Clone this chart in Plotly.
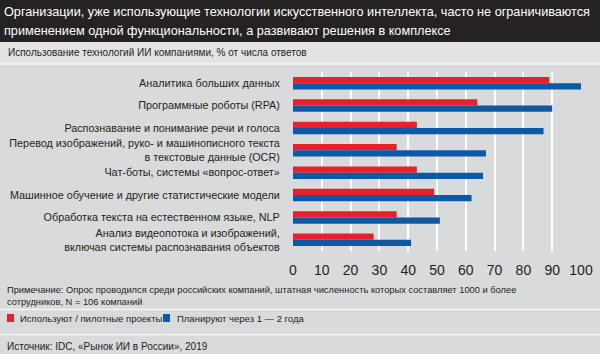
import plotly.graph_objects as go

categories = [
    "Аналитика больших данных",
    "Программные роботы (RPA)",
    "Распознавание и понимание речи и голоса",
    "Перевод изображений, руко- и машинописного текста<br>в текстовые данные (OCR)",
    "Чат-боты, системы «вопрос-ответ»",
    "Машинное обучение и другие статистические модели",
    "Обработка текста на естественном языке, NLP",
    "Анализ видеопотока и изображений,<br>включая системы распознавания объектов",
]
use_now = [89, 64, 43, 36, 43, 49, 36, 28]
plan_1_2 = [100, 90, 87, 67, 66, 62, 51, 41]
x_ticks = [0, 10, 20, 30, 40, 50, 60, 70, 80, 90, 100]

title_lines = [
    "Организации, уже использующие технологии искусственного интеллекта, часто не ограничиваются",
    "применением одной функциональности, а развивают решения в комплексе",
]
subtitle = "Использование технологий ИИ компаниями, % от числа ответов"
note = ("Примечание: Опрос проводился среди российских компаний, штатная численность которых составляет 1000 и более<br>"
        "сотрудников, N = 106 компаний")
legend_names = ["Используют / пилотные проекты", "Планируют через 1 — 2 года"]
source = "Источник: IDC, «Рынок ИИ в России», 2019"

RED = "#e8202a"
BLUE = "#0d59a6"
BG = "#d9dadb"
FONT = "Liberation Sans, Arial, sans-serif"

W, H = 600, 354
L, R, T, B = 293, 19, 72, 103
PW, PH = W - L - R, H - T - B

fig = go.Figure()
fig.add_trace(go.Bar(y=categories, x=use_now, orientation="h", marker_color=RED,
                     marker_line_width=0, name=legend_names[0]))
fig.add_trace(go.Bar(y=categories, x=plan_1_2, orientation="h", marker_color=BLUE,
                     marker_line_width=0, name=legend_names[1]))

def px(x):
    return (x - L) / PW

def py(y):
    return (H - B - y) / PH

shapes = [
    dict(type="rect", xref="paper", yref="paper", x0=px(0), x1=px(W), y0=py(42), y1=py(0),
         fillcolor="#262223", line_width=0, layer="below"),
    dict(type="rect", xref="paper", yref="paper", x0=px(0), x1=px(W), y0=py(64), y1=py(42),
         fillcolor="#e3e3e4", line_width=0, layer="below"),
    dict(type="line", xref="paper", yref="paper", x0=px(0), x1=px(W), y0=py(64), y1=py(64),
         line=dict(color="#f4f4f4", width=1.5), layer="below"),
    dict(type="line", xref="paper", yref="paper", x0=px(0), x1=px(W), y0=py(309.5), y1=py(309.5),
         line=dict(color="#f4f4f4", width=1.5), layer="below"),
    dict(type="line", xref="paper", yref="paper", x0=px(0), x1=px(W), y0=py(334.5), y1=py(334.5),
         line=dict(color="#f4f4f4", width=1.5), layer="below"),
    dict(type="rect", xref="paper", yref="paper", x0=px(7), x1=px(14), y0=py(322), y1=py(314),
         fillcolor=RED, line_width=0),
    dict(type="rect", xref="paper", yref="paper", x0=px(163), x1=px(170), y0=py(322), y1=py(314),
         fillcolor=BLUE, line_width=0),
]

ann = []
def text(x, y, s, size, color="#231f20"):
    ann.append(dict(xref="paper", yref="paper", x=px(x), y=py(y), text=s, showarrow=False,
                    xanchor="left", yanchor="middle", align="left",
                    font=dict(family=FONT, size=size, color=color)))

text(2, 12, title_lines[0], 12.7, "#ffffff")
text(2, 31, title_lines[1], 12.7, "#ffffff")
text(6, 53, subtitle, 10)
text(5, 295.5, note, 9.3)
text(18, 318, legend_names[0], 9.5)
text(175, 318, legend_names[1], 9.5)
text(5, 346, source, 10)

fig.update_layout(
    width=W, height=H,
    margin=dict(l=L, r=R, t=T, b=B, autoexpand=False),
    paper_bgcolor=BG, plot_bgcolor=BG,
    barmode="group", bargap=0.44, bargroupgap=0,
    showlegend=False,
    shapes=shapes, annotations=ann,
    font=dict(family=FONT, color="#231f20"),
    xaxis=dict(range=[0, 100], tickvals=x_ticks, showgrid=True, gridcolor="#ffffff",
               gridwidth=1.5, zeroline=False, showline=False, automargin=False,
               ticks="outside", ticklen=6, tickcolor="rgba(0,0,0,0)",
               tickfont=dict(size=14, family=FONT, color="#231f20"), fixedrange=True),
    yaxis=dict(autorange="reversed", showgrid=False, zeroline=False, showline=False,
               automargin=False,
               ticks="outside", ticklen=10, tickcolor="rgba(0,0,0,0)",
               tickfont=dict(size=10.8, family=FONT, color="#231f20"), fixedrange=True),
)

fig.write_html("out.html", config=dict(displayModeBar=False))
